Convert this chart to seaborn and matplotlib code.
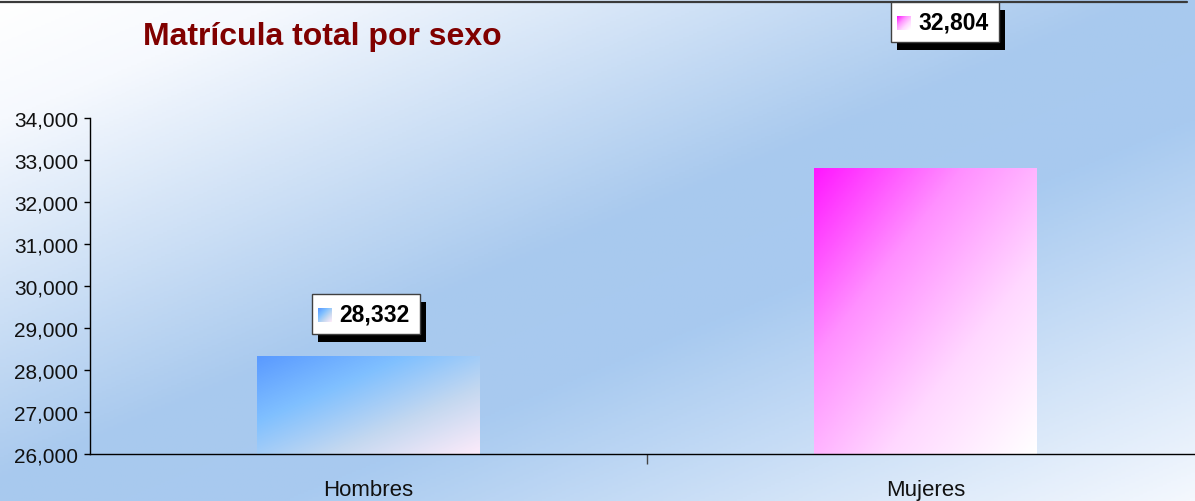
import numpy as np
import pandas as pd
import seaborn as sns
import matplotlib.pyplot as plt
from matplotlib.colors import LinearSegmentedColormap
from matplotlib.patches import Rectangle
from matplotlib.lines import Line2D
from matplotlib.ticker import FuncFormatter, FixedLocator
from matplotlib.transforms import IdentityTransform

categories = ["Hombres", "Mujeres"]
totals = [28332, 32804]
title = "Matrícula total por sexo"

# gradient stops for each bar, top-left -> bottom-right
bar_stops = [["#5a9aff", "#80c0ff", "#c4d8f0", "#fcebfa"],
             ["#ff18ff", "#ff90ff", "#ffd8ff", "#ffffff"]]
# value box offset from bar top (pixels)
label_offsets = [(-3, 42), (19, 146)]

sns.set_theme(style="white")
plt.rcParams["font.family"] = ["Liberation Sans", "DejaVu Sans"]

W, H = 1195, 502
fig = plt.figure(figsize=(W / 100, H / 100), dpi=100)

# diagonal background gradient
bg = fig.add_axes([0, 0, 1, 1], zorder=0)
yy, xx = np.mgrid[0:1:250j, 0:1:600j]
bg_cmap = LinearSegmentedColormap.from_list(
    "bg", [(0, "#ffffff"), (0.12, "#f6f9fe"), (0.48, "#a8c9ee"),
           (0.62, "#a8caf0"), (1, "#f4f8fe")])
bg.imshow(xx + yy, cmap=bg_cmap, vmin=0, vmax=2, extent=[0, 1, 0, 1],
          aspect="auto", origin="upper")
bg.set_xlim(0, 1)
bg.set_ylim(0, 1)
bg.set_axis_off()
fig.add_artist(Line2D([0, W - 8], [H - 3, H - 3], color="#3a3a3a", lw=1.6,
                      transform=IdentityTransform()))

ax = fig.add_axes([90 / W, (H - 455) / H, (1204 - 90) / W, (455 - 119) / H], zorder=1)
ax.patch.set_alpha(0)
df = pd.DataFrame({"Sexo": categories, "Matricula": totals})
sns.barplot(data=df, x="Sexo", y="Matricula", ax=ax, width=0.4, color="white")
ax.set_ylim(26000, 34000)
ax.set_xlim(-0.5, 1.5)

ylo = ax.get_ylim()[0]
for patch, stops in zip(ax.patches, bar_stops):
    patch.set_facecolor("none")
    patch.set_linewidth(0)
    x0 = patch.get_x()
    x1 = x0 + patch.get_width()
    top = patch.get_y() + patch.get_height()
    cm = LinearSegmentedColormap.from_list("b", stops)
    gy, gx = np.mgrid[0:1:100j, 0:1:100j]
    im = ax.imshow(gx + gy, cmap=cm, vmin=0, vmax=2, extent=[x0, x1, ylo, top],
                   aspect="auto", origin="upper", zorder=2)
    im.set_clip_path(patch)
ax.set_ylim(26000, 34000)
ax.set_xlim(-0.5, 1.5)

ax.yaxis.set_major_locator(FixedLocator(range(26000, 34001, 1000)))
ax.yaxis.set_major_formatter(FuncFormatter(lambda v, p: f"{v:,.0f}"))
ax.tick_params(axis="y", left=True, length=4.5, width=1, color="black",
               labelsize=15, pad=4, labelcolor="#111111")
ax.tick_params(axis="x", which="major", bottom=False, length=0,
               labelsize=16, pad=18, labelcolor="#111111")
ax.set_xticks([0.5], minor=True)
ax.tick_params(axis="x", which="minor", bottom=True, length=7, width=1, color="#444444")
ax.set_xlabel("")
ax.set_ylabel("")
for s in ["top", "right"]:
    ax.spines[s].set_visible(False)
for s in ["left", "bottom"]:
    ax.spines[s].set_color("black")
    ax.spines[s].set_linewidth(1)

fig.text(143 / W, 1 - 37 / H, title, fontsize=23, fontweight="bold",
         color="#800000", va="center", ha="left")

# value boxes with shadow and key
bw, bh = 108, 40
for i, (val, stops, (dx, dy)) in enumerate(zip(totals, bar_stops, label_offsets)):
    px, py = ax.transData.transform((i, val))
    cx, cy = px + dx, py + dy
    fig.add_artist(Rectangle((cx - bw / 2 + 6, cy - bh / 2 - 8), bw, bh, facecolor="black",
                             edgecolor="none", transform=IdentityTransform(), zorder=4))
    fig.add_artist(Rectangle((cx - bw / 2, cy - bh / 2), bw, bh, facecolor="white",
                             edgecolor="#404040", lw=1, transform=IdentityTransform(), zorder=5))
    fig.text(cx + 9, cy, f"{val:,}", fontsize=16.5, fontweight="bold", color="black",
             ha="center", va="center", transform=IdentityTransform(), zorder=6)
    gy, gx = np.mgrid[0:1:14j, 0:1:14j]
    key = LinearSegmentedColormap.from_list("k", stops)((gx + gy) / 2)
    fig.figimage(key, xo=int(cx - 47), yo=int(cy - 7), origin="upper", zorder=6)

fig.savefig("out.png", dpi=100)
